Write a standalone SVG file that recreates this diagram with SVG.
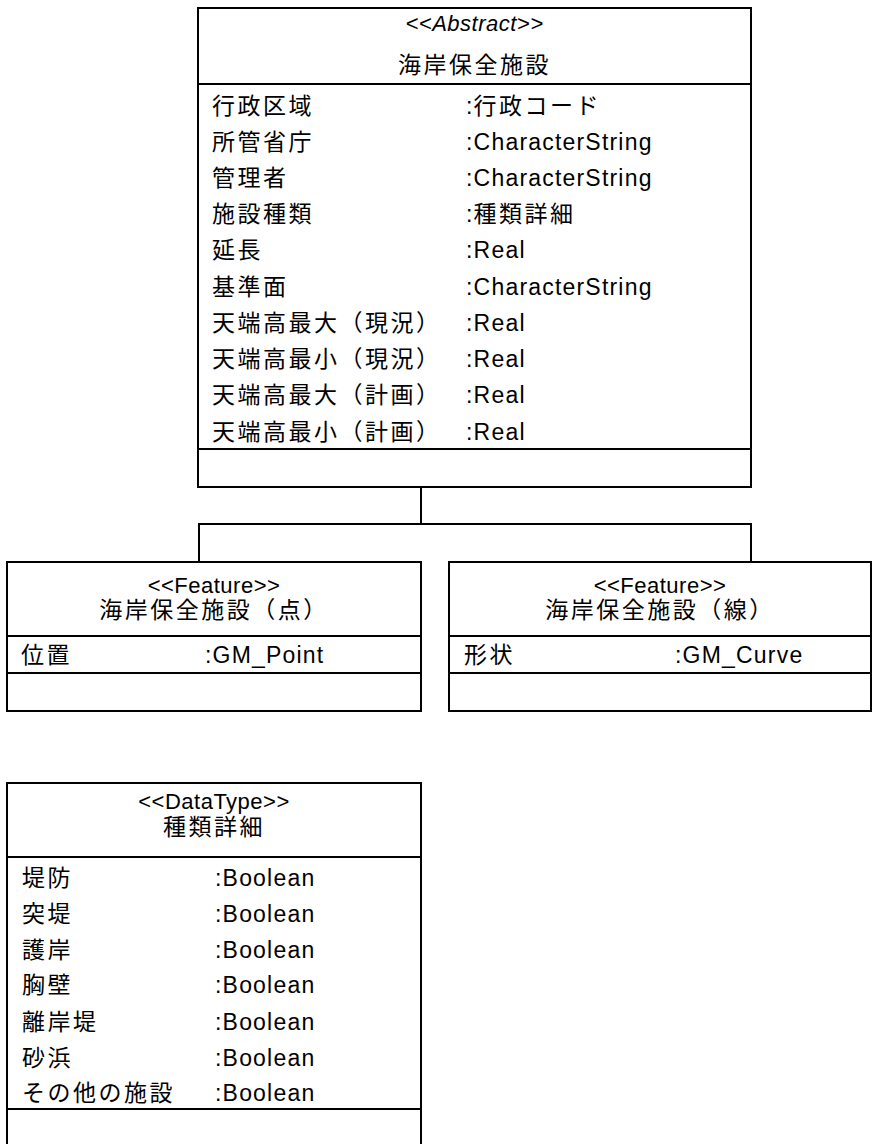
<svg xmlns="http://www.w3.org/2000/svg" width="873" height="1144" viewBox="0 0 873 1144">
<style>
text{font-family:"Liberation Sans","Noto Sans CJK JP",sans-serif;fill:#000}
.cj{font-size:23px;letter-spacing:2.5px}
.lt{font-size:23px;letter-spacing:1.2px}
.hd{font-size:22px;letter-spacing:0.5px}
.it{font-style:italic}
.mid{text-anchor:middle}
.box{fill:#fff;stroke:#000;stroke-width:2}
.ln{fill:none;stroke:#000;stroke-width:2}
</style>
<rect width="873" height="1144" fill="#fff"/>
<g id="connectors">
<polyline class="ln" points="421,487 421,524"/>
<polyline class="ln" points="199,562 199,524 751,524 751,562"/>
</g>
<g id="node-kaigan">
<rect class="box" x="198" y="8" width="553" height="479"/>
<line class="ln" x1="198" y1="84" x2="751" y2="84"/>
<line class="ln" x1="198" y1="449" x2="751" y2="449"/>
<text class="hd it mid" x="474.5" y="31">&lt;&lt;Abstract&gt;&gt;</text>
<text class="cj mid" x="474.5" y="73">海岸保全施設</text>
<text class="cj" x="212" y="114">行政区域</text><text class="lt" x="466" y="114">:<tspan class="cj">行政コード</tspan></text>
<text class="cj" x="212" y="150">所管省庁</text><text class="lt" x="466" y="150">:CharacterString</text>
<text class="cj" x="212" y="186">管理者</text><text class="lt" x="466" y="186">:CharacterString</text>
<text class="cj" x="212" y="222">施設種類</text><text class="lt" x="466" y="222">:<tspan class="cj">種類詳細</tspan></text>
<text class="cj" x="212" y="258">延長</text><text class="lt" x="466" y="258">:Real</text>
<text class="cj" x="212" y="295">基準面</text><text class="lt" x="466" y="295">:CharacterString</text>
<text class="cj" x="212" y="331">天端高最大（現況）</text><text class="lt" x="466" y="331">:Real</text>
<text class="cj" x="212" y="367">天端高最小（現況）</text><text class="lt" x="466" y="367">:Real</text>
<text class="cj" x="212" y="403">天端高最大（計画）</text><text class="lt" x="466" y="403">:Real</text>
<text class="cj" x="212" y="440">天端高最小（計画）</text><text class="lt" x="466" y="440">:Real</text>
</g>
<g id="node-point">
<rect class="box" x="7" y="562" width="414" height="149"/>
<line class="ln" x1="7" y1="636" x2="421" y2="636"/>
<line class="ln" x1="7" y1="673" x2="421" y2="673"/>
<text class="hd mid" x="214" y="593">&lt;&lt;Feature&gt;&gt;</text>
<text class="cj mid" x="214" y="618">海岸保全施設（点）</text>
<text class="cj" x="21" y="663">位置</text><text class="lt" x="205" y="663">:GM_Point</text>
</g>
<g id="node-line">
<rect class="box" x="449" y="562" width="422" height="149"/>
<line class="ln" x1="449" y1="636" x2="871" y2="636"/>
<line class="ln" x1="449" y1="673" x2="871" y2="673"/>
<text class="hd mid" x="660" y="593">&lt;&lt;Feature&gt;&gt;</text>
<text class="cj mid" x="660" y="618">海岸保全施設（線）</text>
<text class="cj" x="464" y="663">形状</text><text class="lt" x="675" y="663">:GM_Curve</text>
</g>
<g id="node-shurui">
<rect class="box" x="7" y="783" width="414" height="370"/>
<line class="ln" x1="7" y1="857" x2="421" y2="857"/>
<line class="ln" x1="7" y1="1109" x2="421" y2="1109"/>
<text class="hd mid" x="214" y="809">&lt;&lt;DataType&gt;&gt;</text>
<text class="cj mid" x="214" y="835">種類詳細</text>
<text class="cj" x="22" y="886">堤防</text><text class="lt" x="215" y="886">:Boolean</text>
<text class="cj" x="22" y="922">突堤</text><text class="lt" x="215" y="922">:Boolean</text>
<text class="cj" x="22" y="958">護岸</text><text class="lt" x="215" y="958">:Boolean</text>
<text class="cj" x="22" y="993">胸壁</text><text class="lt" x="215" y="993">:Boolean</text>
<text class="cj" x="22" y="1030">離岸堤</text><text class="lt" x="215" y="1030">:Boolean</text>
<text class="cj" x="22" y="1066">砂浜</text><text class="lt" x="215" y="1066">:Boolean</text>
<text class="cj" x="22" y="1101">その他の施設</text><text class="lt" x="215" y="1101">:Boolean</text>
</g>
</svg>
